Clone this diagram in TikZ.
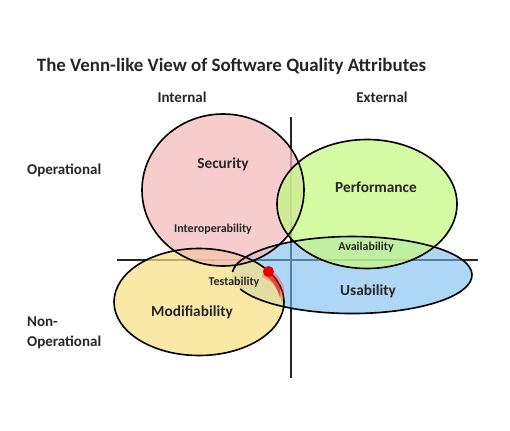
\documentclass[tikz,border=0pt]{standalone}
\usepackage{fontspec}
\setmainfont{Carlito}[BoldFont={Carlito Bold}]
\usetikzlibrary{fadings}
% green region fades out towards its lower rim
\pgfdeclareverticalshading{perfshade}{100bp}{color(0bp)=(black); color(6bp)=(black!85!white); color(24bp)=(white); color(100bp)=(white)}
\pgfdeclarefading{perffade}{\pgfuseshading{perfshade}}
\begin{document}
\begin{tikzpicture}[x=1pt,y=-1pt,
  axis/.style={line width=2pt,draw=black!85},
  setline/.style={draw=black,line width=1.6pt},
  lbl/.style={font=\bfseries,text=black!85,inner sep=1pt},
  big/.style={lbl,font=\bfseries\fontsize{15.3}{18}\selectfont},
  small/.style={lbl,font=\bfseries\fontsize{12}{14}\selectfont},
  head/.style={lbl,font=\bfseries\fontsize{15}{20}\selectfont}]
\definecolor{secpink}{RGB}{242,186,184}
\definecolor{perfgreen}{RGB}{198,248,134}
\definecolor{usablue}{RGB}{123,187,238}
\definecolor{modyellow}{RGB}{248,224,132}
\useasboundingbox (0,0) rectangle (510,430);

% quadrant axes
\coordinate (vtop) at (291,117);
\coordinate (vbot) at (291,378);
\coordinate (hl) at (117,260);
\coordinate (hr) at (478,260);
\draw[axis] (vtop) -- (vbot);
\draw[axis] (hl) -- (hr);

% translucent attribute regions
\fill[usablue,fill opacity=0.6] (352,275) ellipse [x radius=120,y radius=38.5];
\fill[modyellow,fill opacity=0.72] (199,302) ellipse [x radius=85,y radius=53.5];
\fill[secpink,fill opacity=0.72] (223,190) ellipse [x radius=81,y radius=76];
\fill[perfgreen,fill opacity=0.75,path fading=perffade,fit fading=true] (367,204) ellipse [x radius=90,y radius=64.5];

% outlines
\draw[setline] (223,190) ellipse [x radius=81,y radius=76];
\draw[setline] (367,204) ellipse [x radius=90,y radius=64.5];
\draw[setline] (232.4,272) arc [start angle=184.5,end angle=518.7,x radius=120,y radius=38.5];
\draw[setline] (199,302) ellipse [x radius=85,y radius=53.5];

% pen mark on Testability
\fill[red!80!white,opacity=0.35] (264,267) .. controls (282,273) and (288,290) .. (282,303)
  .. controls (280,291) and (273,281) .. (262,277) -- cycle;
\fill[red!85!black,opacity=0.55] (267,270) .. controls (278,276) and (282,286) .. (280,298)
  .. controls (277,288) and (273,280) .. (265,275) -- cycle;
\fill[red!90!black] (268.5,271.5) circle [radius=5.5];

% titles and axis labels
\node[lbl,font=\bfseries\fontsize{18.9}{22}\selectfont] (title) at (231.5,66) {The Venn-like View of Software Quality Attributes};
\node[head] (internal) at (182,97) {Internal};
\node[head] (external) at (382,97) {External};
\node[head,anchor=west] (oper) at (26,170) {Operational};
\node[head,anchor=west,align=left] (nonoper) at (26,333) {Non-\\Operational};

% attribute labels
\node[big] (security) at (223,164) {Security};
\node[small] (interop) at (213,229) {Interoperability};
\node[big] (performance) at (376,187) {Performance};
\node[small] (availability) at (366,247) {Availability};
\node[big] (usability) at (368,291) {Usability};
\node[big] (modifiability) at (192,312) {Modifiability};
\node[small] (testability) at (234,282) {Testability};
\end{tikzpicture}
\end{document}
